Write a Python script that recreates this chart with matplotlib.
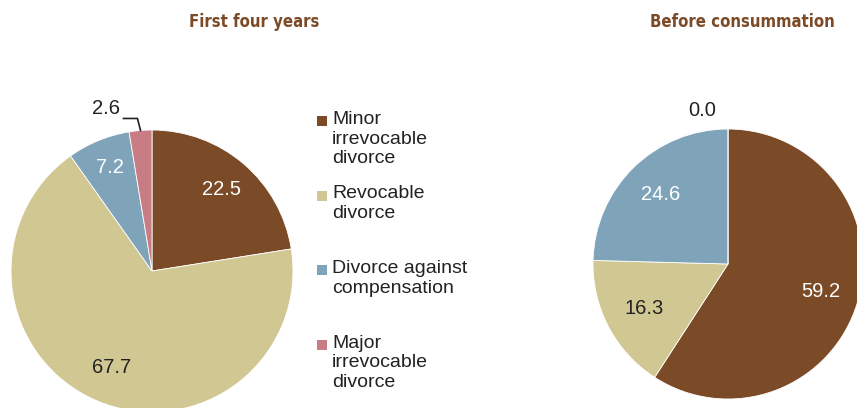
import numpy as np
import matplotlib
matplotlib.use("Agg")
import matplotlib.pyplot as plt
from matplotlib.patches import Rectangle
from matplotlib import font_manager

# data
categories = ["Minor\nirrevocable\ndivorce", "Revocable\ndivorce",
              "Divorce against\ncompensation", "Major\nirrevocable\ndivorce"]
first_four_years = [22.5, 67.7, 7.2, 2.6]
before_consummation = [59.2, 16.3, 24.6, 0.0]
titles = ["First four years", "Before consummation"]

colors = ["#7B4A27", "#D1C792", "#7FA4BA", "#C87C83"]
label_colors = ["white", "#222222", "white", "#222222"]

W, H = 857, 408
plt.rcParams['font.family'] = ['Liberation Sans', 'DejaVu Sans']

# narrow bold font for titles, if there is one
names = {f.name for f in font_manager.fontManager.ttflist}
if "Liberation Sans Narrow" in names:
    title_font = dict(family="Liberation Sans Narrow")
else:
    title_font = dict(family="DejaVu Sans", stretch="condensed")

fig = plt.figure(figsize=(W / 100, H / 100), dpi=100)
ax = fig.add_axes([0, 0, 1, 1])


def py(y):
    # pixel y (from top) to data y
    return H - y


def draw_pie(values, cx, cy, r, dist, skip):
    wedges, _ = ax.pie(values, colors=colors, startangle=90, counterclock=False,
                       center=(cx, py(cy)), radius=r,
                       wedgeprops=dict(edgecolor="white", linewidth=0.6))
    for i, (w, v) in enumerate(zip(wedges, values)):
        if i in skip:
            continue
        ang = np.deg2rad((w.theta1 + w.theta2) / 2)
        ax.text(cx + dist[i] * r * np.cos(ang), py(cy) + dist[i] * r * np.sin(ang),
                f"{v:.1f}", ha="center", va="center", fontsize=14.5,
                color=label_colors[i])
    return wedges


# left pie
lw = draw_pie(first_four_years, 152, 271, 141, [0.76, 0.74, 0.79, 0], skip=[3])
w = lw[3]
ang = np.deg2rad((w.theta1 + w.theta2) / 2)
ex, ey = 152 + 141 * np.cos(ang), py(271) + 141 * np.sin(ang)
ax.plot([ex, ex - 3, ex - 17], [ey, ey + 12, ey + 12], color="#222222", lw=1.2)
ax.text(ex - 20, ey + 22, f"{first_four_years[3]:.1f}", ha="right", va="center",
        fontsize=14.5, color="#222222")

# right pie
rw = draw_pie(before_consummation, 728, 264, 135, [0.72, 0.70, 0.72, 0], skip=[3])
ax.text(702, py(110), f"{before_consummation[3]:.1f}", ha="center", va="center",
        fontsize=14.5, color="#222222")

# titles
for t, x in zip(titles, [254, 742]):
    ax.text(x, py(22), t, ha="center", va="center", fontsize=12,
            fontweight="bold", color="#7B4A27", **title_font)

# legend
for i, lab in enumerate(categories):
    top = 111 + i * 74.5
    ax.add_patch(Rectangle((317, py(top + 15)), 10, 10, color=colors[i], lw=0))
    ax.text(332, py(top), lab, ha="left", va="top", fontsize=14,
            color="#222222", linespacing=1.2)

ax.set_xlim(0, W)
ax.set_ylim(0, H)
ax.set_aspect("equal")
ax.axis("off")

fig.savefig("out.png", dpi=100)
